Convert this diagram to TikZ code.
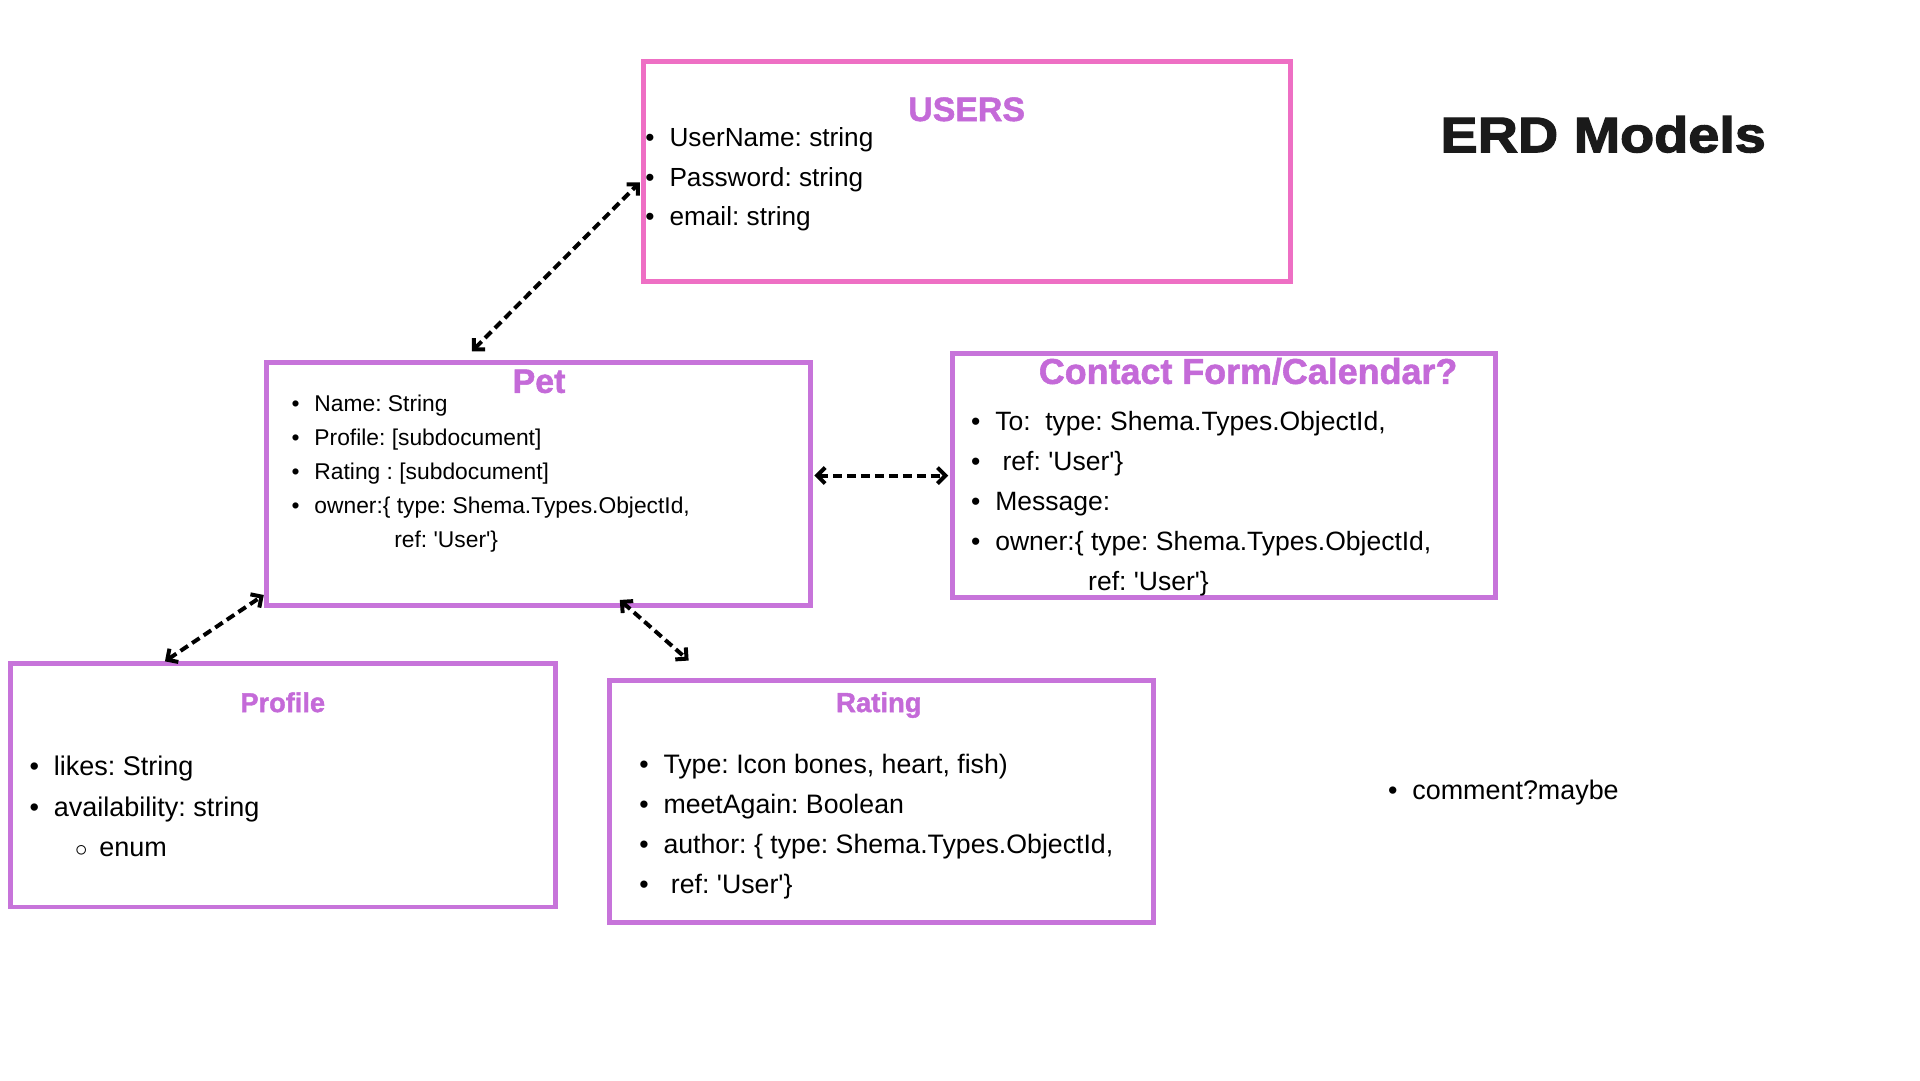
\documentclass[tikz,border=0pt]{standalone}
\usepackage{fontspec}
\setmainfont{Liberation Sans}
\newfontfamily\erdfont[FakeStretch=1.12, BoldFeatures={FakeBold=2.5}]{Liberation Sans}
\newfontfamily\titlefont[BoldFeatures={FakeBold=1.5}]{Liberation Sans}
\usetikzlibrary{arrows.meta}
\definecolor{erdpink}{HTML}{EE6FC4}
\definecolor{erdpurple}{HTML}{C774DA}
\definecolor{erdtitle}{HTML}{C46AD8}
\definecolor{erdblack}{HTML}{1A1A1A}
\newcommand{\unitf}{0.9945}
\newcommand{\fs}[1]{\fontsize{#1}{#1}\selectfont}
\newcommand{\bul}{\llap{\textbullet\hspace{15pt}}}
\newcommand{\subbul}{\llap{{\fs{24}$\circ$}\hspace{12pt}}}
\newcommand{\usr}{\textquotesingle User\textquotesingle\}}
\frenchspacing

\begin{document}
\begin{tikzpicture}[x=\unitf bp,y=-\unitf bp]
	\tikzset{entity/.style 2 args={draw=erdpurple, line width=5pt, outer sep=0pt, minimum width={\unitf*#1bp}, minimum height={\unitf*#2bp}, anchor=north west},
		title/.style={text=erdtitle, font=\titlefont\bfseries\fs{#1}, anchor=base, inner sep=0pt},
		item/.style={font=\fs{#1}, anchor=base west, inner sep=0pt},
		link/.style={black, line width=4pt, dash pattern=on 9pt off 5pt, {Straight Barb[length=8pt,width=16pt]}-{Straight Barb[length=8pt,width=16pt]}}};
	\useasboundingbox (0,0) rectangle (1930.6,1086);
	
	\node[entity={650}{221.5}, draw=erdpink] (users) at (647.4,61.5) {};
	\node[entity={546.5}{245}] (pet) at (268.3,364.3) {};
	\node[entity={546.5}{245}] (contact) at (957.5,355.7) {};
	\node[entity={547.8}{245}] (profile) at (11,667) {};
	\node[entity={546.4}{243.7}] (rating) at (613,684.3) {};
	
	\node[title=34] (userstitle) at (972,121.7) {USERS};
	\node[title=34] (pettitle) at (542,395) {Pet};
	\node[title=36] (contacttitle) at (1255,386) {Contact Form/Calendar?};
	\node[title=27.3] (profiletitle) at (284.3,716) {Profile};
	\node[title=27.6] (ratingtitle) at (883.7,716) {Rating};
	\node[font=\erdfont\bfseries\fs{50}, text=erdblack, anchor=base, inner sep=0pt] (erd) at (1612,153) {ERD Models};
	
	\foreach \txt [count=\i] in {{UserName: string}, {Password: string}, {email: string}}
		\node[item=26.3] (users\i) at (673,107.2+40*\i) {\bul\txt};
	
	\foreach \txt [count=\i] in {{Name: String}, {Profile: [subdocument]}, {Rating : [subdocument]}, {owner:\{ type: Shema.Types.ObjectId,}}
		\node[item=22.9] (pet\i) at (316,380+34.1*\i) {\bul\txt};
	\node[item=22.9] (petref) at (396.3,550.9) {ref: \usr};
	
	\foreach \txt [count=\i] in {{To:\ \ type: Shema.Types.ObjectId,}, {\ ref: \usr}, {Message:}, {owner:\{ type: Shema.Types.ObjectId,}}
		\node[item=26.6] (contact\i) at (1000.6,392.7+40.2*\i) {\bul\txt};
	\node[item=26.6] (contactref) at (1094,594.1) {ref: \usr};
	
	\node[item=27.1] (profile1) at (54,780) {\bul likes: String};
	\node[item=27.1] (profile2) at (54,820.5) {\bul availability: string};
	\node[item=27.1] (profile3) at (99.7,861.2) {\subbul enum};
	
	\foreach \txt [count=\i] in {{Type: Icon bones, heart, fish)}, {meetAgain: Boolean}, {author: \{ type: Shema.Types.ObjectId,}, {\ ref: \usr}}
		\node[item=26.8] (rating\i) at (667,737.3+40.2*\i) {\bul\txt};
	
	\node[item=27] (comment) at (1420,804) {\bul comment?maybe};
	
	\draw[link] ([xshift=205bp,yshift=11bp]pet.north west) -- ([xshift=-4bp,yshift=-11bp]users.west);
	\draw[link] ([xshift=4bp]pet.east |- contact.west) -- ([xshift=-4bp]contact.west);
	\draw[link] ([xshift=154bp,yshift=2bp]profile.north west) -- ([xshift=-3bp,yshift=11bp]pet.south west);
	\draw[link] ([xshift=353bp,yshift=6bp]pet.south west) -- ([xshift=79bp,yshift=20bp]rating.north west);
\end{tikzpicture}
\end{document}
